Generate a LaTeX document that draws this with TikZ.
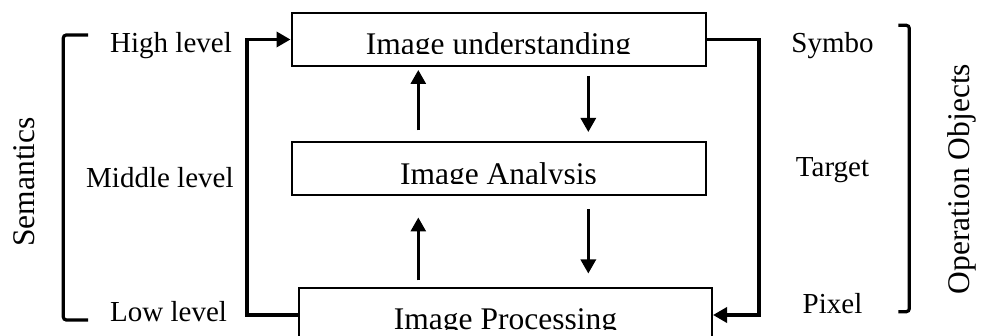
\documentclass[tikz,border=0pt]{standalone}
\usepackage{fontspec}
\setmainfont{Liberation Serif}
\usetikzlibrary{arrows.meta,calc}
\tikzset{
  boxnode/.style={draw, line width=2pt, minimum width=414pt, minimum height=53pt, inner sep=0pt},
  boxtext/.style={anchor=base, inner sep=0pt, font=\fontsize{31.5}{36}\selectfont},
  lbl/.style={inner sep=0pt, font=\fontsize{29}{33}\selectfont},
  sidetitle/.style={anchor=base, rotate=90, inner sep=0pt, font=\fontsize{31.5}{36}\selectfont},
  flow/.style={line width=3pt, -{Triangle[length=14pt,width=15pt]}},
  loopline/.style={line width=3.6pt, -{Triangle[length=14pt,width=15pt]}},
  bracket/.style={line width=3.2pt, rounded corners=3pt},
}
\begin{document}
\begin{tikzpicture}[x=1pt,y=-1pt]
\clip (0,0) rectangle (984,336);
\useasboundingbox (0,0) rectangle (984,336);
% boxes
\node[boxnode] (iu) at (498.5,39.5) {};
\node[boxnode] (ia) at (498.5,169) {};
\node[boxnode, minimum width=413pt] (ip) at (505.5,315) {};
% clipped box texts
\begin{scope}
\clip (292,14) rectangle (705,54);
\node[boxtext] (iut) at (498.5,54.2) {Image understanding};
\end{scope}
\begin{scope}
\clip (292,144) rectangle (705,183.6);
\node[boxtext] (iat) at (498.5,184.2) {Image Analysis};
\end{scope}
\begin{scope}
\clip (300,289) rectangle (711,329.5);
\node[boxtext] (ipt) at (505.5,329.5) {Image Processing};
\end{scope}
% inner arrow positions
\coordinate (ux) at (418.3,0);
\coordinate (dx) at (588.3,0);
\draw[flow, shorten <=11pt, shorten >=3pt] (ia.north -| ux) -- (iu.south -| ux);
\draw[flow, shorten <=9pt, shorten >=9.5pt] (iu.south -| dx) -- (ia.north -| dx);
\draw[flow, shorten <=7pt, shorten >=21pt] (ip.north -| ux) -- (ia.south -| ux);
\draw[flow, shorten <=13pt, shorten >=14pt] (ia.south -| dx) -- (ip.north -| dx);
% feedback loops
\coordinate (lx) at (246.7,0);
\coordinate (rx) at (759,0);
\draw[loopline] (ip.west) -| (lx |- iu.west) -- (iu.west);
\draw[loopline] (iu.east) -| (rx |- ip.east) -- (ip.east);
% left labels
\node[lbl, anchor=base west] (hl) at (110,53) {High level};
\node[lbl, anchor=base west] (ml) at (86,187.7) {Middle level};
\node[lbl, anchor=base west] (ll) at (110,321.7) {Low level};
% right labels
\node[lbl, anchor=base] (sy) at (832.5,52.7) {Symbo};
\node[lbl, anchor=base] (tg) at (832.5,176.7) {Target};
\node[lbl, anchor=base] (px) at (832.5,313.3) {Pixel};
% brackets
\draw[bracket] (88,35) -- (63.3,35) -- (63.3,320) -- (88,320);
\draw[bracket] (898.3,25.3) -- (909.3,25.3) -- (909.3,311.7) -- (898.3,311.7);
% side titles
\node[sidetitle] (sem) at (34,182) {Semantics};
\node[sidetitle] (oo) at (969.5,179) {Operation Objects};
\end{tikzpicture}
\end{document}
